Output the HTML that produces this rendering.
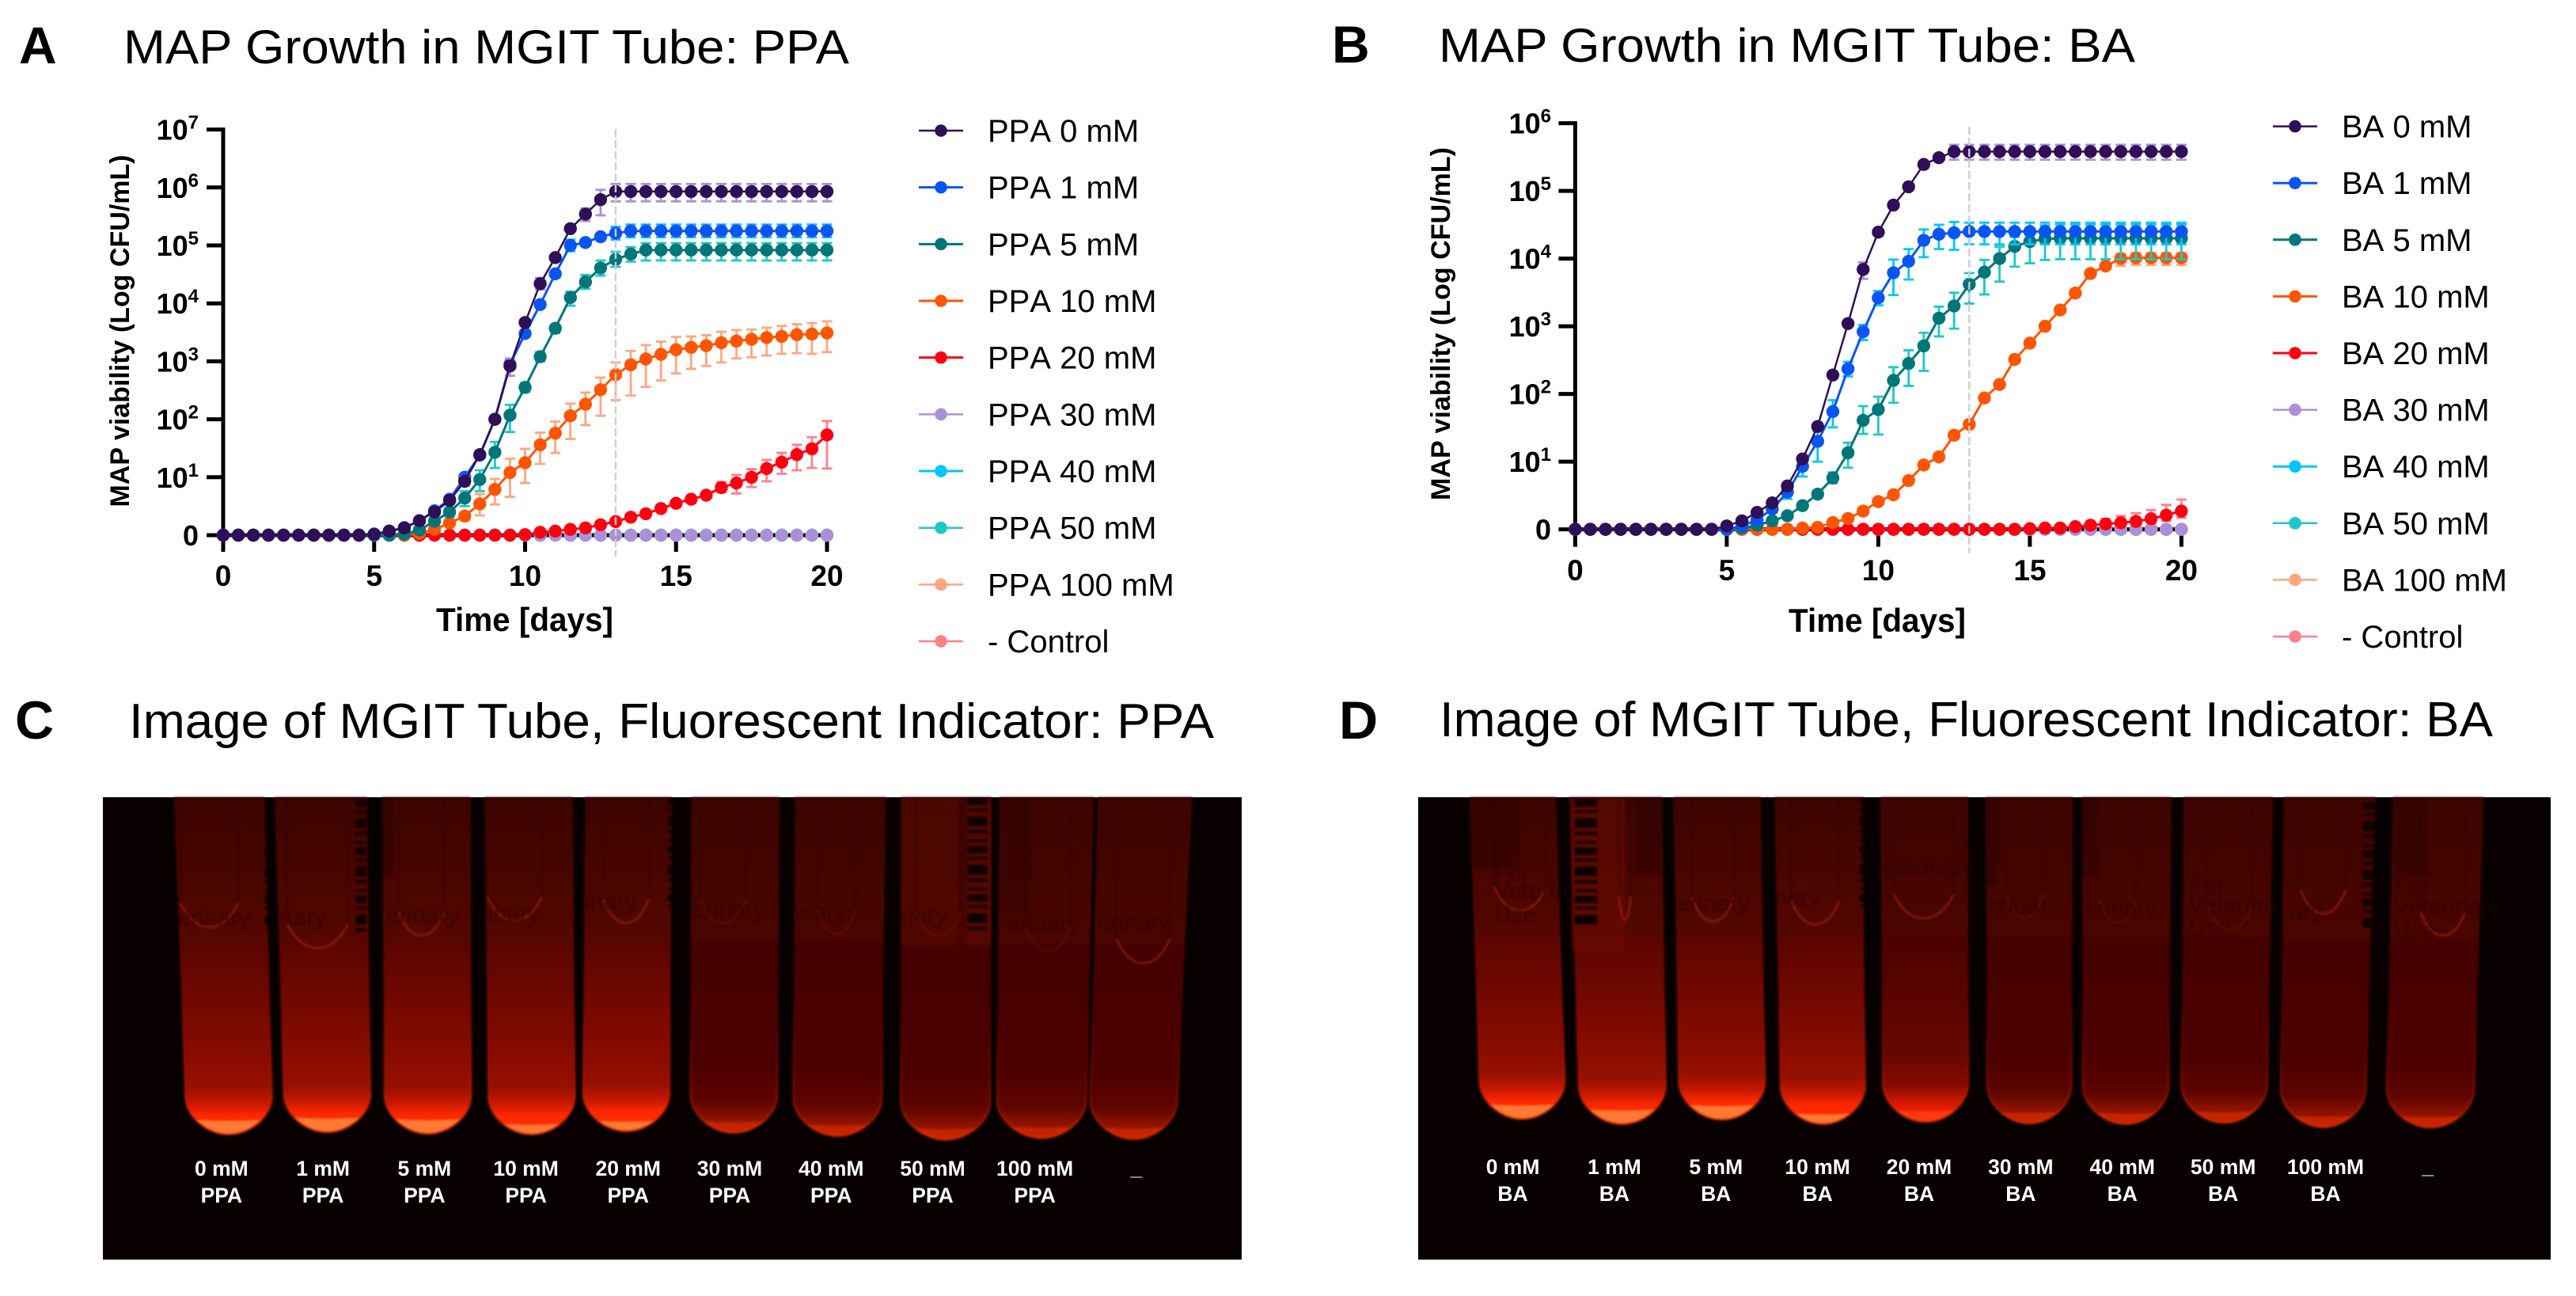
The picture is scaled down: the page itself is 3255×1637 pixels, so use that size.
<!DOCTYPE html>
<html lang="en">
<head>
<meta charset="utf-8">
<title>MAP Growth in MGIT Tube</title>
<style>
html,body{margin:0;padding:0;background:#fff;}
svg{display:block;font-family:"Liberation Sans",Arial,sans-serif;}
</style>
</head>
<body>
<svg id="figure" xmlns="http://www.w3.org/2000/svg" width="3255" height="1637" viewBox="0 0 3255 1637">
  <rect x="0" y="0" width="3255" height="1637" fill="#ffffff"/>
  <defs>
    <linearGradient id="tube-bright" x1="0" y1="0" x2="0" y2="1">
      <stop offset="0" stop-color="#3c0400"/><stop offset="0.2" stop-color="#470500"/><stop offset="0.42" stop-color="#540700"/>
      <stop offset="0.44" stop-color="#5c0500"/><stop offset="0.6" stop-color="#700800"/><stop offset="0.78" stop-color="#8a0c00"/>
      <stop offset="0.86" stop-color="#961000"/><stop offset="0.905" stop-color="#c41800"/><stop offset="0.945" stop-color="#ff2800"/><stop offset="1" stop-color="#ff3000"/>
    </linearGradient>
    <linearGradient id="tube-medium" x1="0" y1="0" x2="0" y2="1">
      <stop offset="0" stop-color="#3c0400"/><stop offset="0.42" stop-color="#4c0500"/><stop offset="0.44" stop-color="#4c0200"/>
      <stop offset="0.8" stop-color="#680600"/><stop offset="0.89" stop-color="#860c00"/><stop offset="0.95" stop-color="#e01a00"/><stop offset="1" stop-color="#ff2c00"/>
    </linearGradient>
    <linearGradient id="tube-dim" x1="0" y1="0" x2="0" y2="1">
      <stop offset="0" stop-color="#3c0400"/><stop offset="0.42" stop-color="#4a0500"/><stop offset="0.44" stop-color="#440000"/>
      <stop offset="0.82" stop-color="#4e0000"/><stop offset="0.91" stop-color="#600500"/><stop offset="0.95" stop-color="#851000"/><stop offset="1" stop-color="#b01c00"/>
    </linearGradient>
    <linearGradient id="tube-edge" x1="0" y1="0" x2="0" y2="1">
      <stop offset="0.6" stop-color="#d02000" stop-opacity="0"/><stop offset="0.9" stop-color="#e02400" stop-opacity="0.35"/><stop offset="1" stop-color="#ff3000" stop-opacity="0.55"/>
    </linearGradient>
  </defs>

  <text x="24" y="80" font-size="66" font-weight="700" fill="#000">A</text>
  <text x="156" y="80" font-size="60" fill="#000" textLength="917" lengthAdjust="spacingAndGlyphs">MAP Growth in MGIT Tube: PPA</text>
  <text x="1683" y="79" font-size="66" font-weight="700" fill="#000">B</text>
  <text x="1818" y="78" font-size="60" fill="#000" textLength="880" lengthAdjust="spacingAndGlyphs">MAP Growth in MGIT Tube: BA</text>
  <text x="19" y="933" font-size="68" font-weight="700" fill="#000">C</text>
  <text x="163" y="932" font-size="62" fill="#000" textLength="1371" lengthAdjust="spacingAndGlyphs">Image of MGIT Tube, Fluorescent Indicator: PPA</text>
  <text x="1692" y="933" font-size="68" font-weight="700" fill="#000">D</text>
  <text x="1819" y="930" font-size="62" fill="#000" textLength="1331" lengthAdjust="spacingAndGlyphs">Image of MGIT Tube, Fluorescent Indicator: BA</text>

  <text transform="translate(163,418) rotate(-90)" text-anchor="middle" font-size="34" font-weight="700" fill="#000" textLength="445" lengthAdjust="spacingAndGlyphs">MAP viability (Log CFU/mL)</text>
  <text x="663" y="797" text-anchor="middle" font-size="42" font-weight="700" fill="#000" textLength="224" lengthAdjust="spacingAndGlyphs">Time [days]</text>
  <text transform="translate(1832,409) rotate(-90)" text-anchor="middle" font-size="34" font-weight="700" fill="#000" textLength="446" lengthAdjust="spacingAndGlyphs">MAP viability (Log CFU/mL)</text>
  <text x="2372" y="798" text-anchor="middle" font-size="42" font-weight="700" fill="#000" textLength="224" lengthAdjust="spacingAndGlyphs">Time [days]</text>

  <g id="chart-a"></g>
  <g id="chart-b"></g>
  <g id="photo-c"></g>
  <g id="photo-d"></g>
</svg>

<script>
// ---------- shared chart data ----------
const days = [0,0.5,1,1.5,2,2.5,3,3.5,4,4.5, 5,5.5,6,6.5,7,7.5,8,8.5,9,9.5, 10,10.5,11,11.5,12,12.5,13,13.5,14,14.5, 15,15.5,16,16.5,17,17.5,18,18.5,19,19.5, 20];
const xTickLabels = [0,5,10,15,20];
const ppaDecades = [0,1,2,3,4,5,6,7];
const baDecades = [0,1,2,3,4,5,6];
const referenceDay = [13];
const ppaLegendLabels = ["PPA 0 mM","PPA 1 mM","PPA 5 mM","PPA 10 mM","PPA 20 mM","PPA 30 mM","PPA 40 mM","PPA 50 mM","PPA 100 mM","- Control"];
const baLegendLabels = ["BA 0 mM","BA 1 mM","BA 5 mM","BA 10 mM","BA 20 mM","BA 30 mM","BA 40 mM","BA 50 mM","BA 100 mM","- Control"];

// ---------- panel A: log10 CFU/mL (each row = 5 days, last value = day 20) ----------
const ppa0 = [0,0,0,0,0,0,0,0,0,0, 0.02,0.07,0.125,0.25,0.4,0.6,0.93,1.39,2.0,2.92, 3.67,4.34,4.79,5.29,5.54,5.79,5.93,5.93,5.93,5.93, 5.93,5.93,5.93,5.93,5.93,5.93,5.93,5.93,5.93,5.93, 5.93];
const ppa0Up = [0,0,0,0,0,0,0,0,0,0, 0,0,0,0,0.03,0.05,0.08,0.05,0.05,0.13, 0.05,0.1,0.05,0.05,0.1,0.17,0.13,0.13,0.13,0.13, 0.13,0.13,0.13,0.13,0.13,0.13,0.13,0.13,0.13,0.13, 0.13];
const ppa0Down = [0,0,0,0,0,0,0,0,0,0, 0,0,0,0,0.03,0.05,0.08,0.05,0.05,0.17, 0.05,0.1,0.05,0.05,0.12,0.27,0.17,0.17,0.17,0.17, 0.17,0.17,0.17,0.17,0.17,0.17,0.17,0.17,0.17,0.17, 0.17];
const ppa1 = [0,0,0,0,0,0,0,0,0,0, 0.01,0.07,0.13,0.25,0.42,0.62,1.0,1.38,2.0,2.95, 3.48,3.98,4.51,5.0,5.05,5.15,5.21,5.25,5.25,5.25, 5.25,5.25,5.25,5.25,5.25,5.25,5.25,5.25,5.25,5.25, 5.25];
const ppa1Up = [0,0,0,0,0,0,0,0,0,0, 0,0,0.03,0.04,0.05,0.05,0.05,0.05,0.05,0.05, 0.05,0.05,0.05,0.1,0.05,0.05,0.11,0.11,0.11,0.11, 0.11,0.11,0.11,0.11,0.11,0.11,0.11,0.11,0.11,0.11, 0.11];
const ppa1Down = [0,0,0,0,0,0,0,0,0,0, 0,0,0.03,0.04,0.05,0.05,0.05,0.05,0.05,0.05, 0.05,0.05,0.05,0.1,0.05,0.05,0.11,0.11,0.11,0.11, 0.11,0.11,0.11,0.11,0.11,0.11,0.11,0.11,0.11,0.11, 0.11];
const ppa5 = [0,0,0,0,0,0,0,0,0,0, 0,0,0.02,0.09,0.24,0.4,0.64,0.96,1.43,2.07, 2.55,3.08,3.57,4.1,4.37,4.61,4.76,4.85,4.92,4.92, 4.92,4.92,4.92,4.92,4.92,4.92,4.92,4.92,4.92,4.92, 4.92];
const ppa5Up = [0,0,0,0,0,0,0,0,0,0, 0,0,0,0.03,0.05,0.08,0.12,0.16,0.18,0.18, 0.08,0.08,0.06,0.1,0.12,0.13,0.13,0.12,0.12,0.12, 0.12,0.12,0.12,0.12,0.12,0.12,0.12,0.12,0.12,0.12, 0.12];
const ppa5Down = [0,0,0,0,0,0,0,0,0,0, 0,0,0,0.03,0.05,0.08,0.14,0.2,0.27,0.29, 0.08,0.08,0.08,0.14,0.12,0.13,0.13,0.13,0.18,0.18, 0.18,0.18,0.18,0.18,0.18,0.18,0.18,0.18,0.18,0.18, 0.18];
const ppa10 = [0,0,0,0,0,0,0,0,0,0, 0,0,0,0.03,0.1,0.21,0.33,0.54,0.79,1.08, 1.25,1.56,1.76,2.06,2.26,2.51,2.77,2.94,3.04,3.12, 3.2,3.24,3.27,3.32,3.35,3.38,3.41,3.43,3.46,3.47, 3.49];
const ppa10Up = [0,0,0,0,0,0,0,0,0,0, 0,0,0,0,0,0.03,0.05,0.17,0.18,0.24, 0.24,0.21,0.2,0.21,0.2,0.21,0.21,0.24,0.24,0.22, 0.22,0.19,0.18,0.19,0.19,0.17,0.17,0.18,0.18,0.19, 0.2];
const ppa10Down = [0,0,0,0,0,0,0,0,0,0, 0,0,0,0,0,0.03,0.08,0.2,0.26,0.42, 0.35,0.33,0.34,0.4,0.36,0.45,0.44,0.53,0.48,0.45, 0.41,0.37,0.35,0.34,0.3,0.31,0.31,0.3,0.32,0.34, 0.33];
const ppa20 = [0,0,0,0,0,0,0,0,0,0, 0,0,0,0,0,0,0,0,0,0, 0.01,0.05,0.07,0.1,0.125,0.18,0.235,0.31,0.37,0.46, 0.55,0.62,0.69,0.82,0.9,1.0,1.15,1.26,1.39,1.49, 1.73];
const ppa20Up = [0,0,0,0,0,0,0,0,0,0, 0,0,0,0,0,0,0,0,0,0, 0,0,0,0,0,0,0.02,0.02,0.03,0.03, 0.04,0.04,0.05,0.1,0.14,0.14,0.15,0.16,0.17,0.2, 0.24];
const ppa20Down = [0,0,0,0,0,0,0,0,0,0, 0,0,0,0,0,0,0,0,0,0, 0,0,0,0,0,0,0.02,0.02,0.03,0.03, 0.04,0.04,0.05,0.08,0.18,0.17,0.22,0.2,0.27,0.33, 0.58];
const ppa30 = [0,0,0,0,0,0,0,0,0,0, 0,0,0,0,0,0,0,0,0,0, 0,0,0,0,0,0,0,0,0,0, 0,0,0,0,0,0,0,0,0,0, 0];
const ppa40 = [0,0,0,0,0,0,0,0,0,0, 0,0,0,0,0,0,0,0,0,0, 0,0,0,0,0,0,0,0,0,0, 0,0,0,0,0,0,0,0,0,0, 0];
const ppa50 = [0,0,0,0,0,0,0,0,0,0, 0,0,0,0,0,0,0,0,0,0, 0,0,0,0,0,0,0,0,0,0, 0,0,0,0,0,0,0,0,0,0, 0];
const ppa100 = [0,0,0,0,0,0,0,0,0,0, 0,0,0,0,0,0,0,0,0,0, 0,0,0,0,0,0,0,0,0,0, 0,0,0,0,0,0,0,0,0,0, 0];
const ppaControl = [0,0,0,0,0,0,0,0,0,0, 0,0,0,0,0,0,0,0,0,0, 0,0,0,0,0,0,0,0,0,0, 0,0,0,0,0,0,0,0,0,0, 0];

// ---------- panel B: log10 CFU/mL ----------
const ba0 = [0,0,0,0,0,0,0,0,0,0, 0.05,0.125,0.25,0.39,0.64,1.04,1.52,2.28,3.04,3.84, 4.39,4.79,5.06,5.39,5.49,5.58,5.58,5.58,5.58,5.58, 5.58,5.58,5.58,5.58,5.58,5.58,5.58,5.58,5.58,5.58, 5.58];
const ba0Up = [0,0,0,0,0,0,0,0,0,0, 0,0,0,0,0,0,0,0.03,0.03,0.105, 0.03,0.03,0.03,0.05,0.03,0.1,0.1,0.1,0.1,0.1, 0.1,0.1,0.1,0.1,0.1,0.1,0.1,0.1,0.1,0.1, 0.1];
const ba0Down = [0,0,0,0,0,0,0,0,0,0, 0,0,0,0,0,0,0,0.03,0.03,0.14, 0.03,0.03,0.03,0.05,0.03,0.12,0.12,0.12,0.12,0.12, 0.12,0.12,0.12,0.12,0.12,0.12,0.12,0.12,0.12,0.12, 0.12];
const ba1 = [0,0,0,0,0,0,0,0,0,0, 0,0.05,0.14,0.3,0.55,0.93,1.3,1.74,2.37,2.92, 3.42,3.79,3.96,4.27,4.36,4.38,4.4,4.4,4.4,4.4, 4.4,4.4,4.4,4.4,4.4,4.4,4.4,4.4,4.4,4.4, 4.4];
const ba1Up = [0,0,0,0,0,0,0,0,0,0, 0,0,0.03,0.05,0.08,0.1,0.15,0.168,0.105,0.1, 0.1,0.195,0.18,0.16,0.14,0.16,0.13,0.13,0.13,0.13, 0.13,0.13,0.13,0.13,0.13,0.13,0.13,0.13,0.13,0.13, 0.13];
const ba1Down = [0,0,0,0,0,0,0,0,0,0, 0,0,0.03,0.05,0.1,0.15,0.3,0.234,0.11,0.125, 0.11,0.33,0.27,0.25,0.22,0.25,0.19,0.19,0.19,0.19, 0.19,0.19,0.19,0.19,0.19,0.19,0.19,0.19,0.19,0.19, 0.19];
const ba5 = [0,0,0,0,0,0,0,0,0,0, 0,0.02,0.06,0.125,0.2,0.35,0.52,0.76,1.13,1.61, 1.77,2.2,2.45,2.71,3.12,3.3,3.62,3.8,4.0,4.18, 4.25,4.29,4.3,4.3,4.3,4.3,4.3,4.3,4.3,4.3, 4.3];
const ba5Up = [0,0,0,0,0,0,0,0,0,0, 0,0,0,0,0.02,0.03,0.05,0.08,0.15,0.21, 0.19,0.195,0.195,0.195,0.17,0.195,0.165,0.18,0.175,0.14, 0.12,0.2,0.2,0.2,0.2,0.2,0.2,0.2,0.2,0.2, 0.2];
const ba5Down = [0,0,0,0,0,0,0,0,0,0, 0,0,0,0,0.02,0.03,0.05,0.08,0.22,0.2, 0.37,0.33,0.33,0.37,0.27,0.335,0.285,0.33,0.34,0.3, 0.32,0.31,0.31,0.31,0.31,0.31,0.31,0.31,0.31,0.31, 0.31];
const ba10 = [0,0,0,0,0,0,0,0,0,0, 0,0,0,0,0,0.02,0.03,0.1,0.16,0.27, 0.41,0.51,0.72,0.95,1.07,1.39,1.55,1.94,2.14,2.51, 2.75,3.0,3.24,3.49,3.78,3.89,4.0,4.01,4.01,4.01, 4.01];
const ba10Up = [0,0,0,0,0,0,0,0,0,0, 0,0,0,0,0,0,0,0,0.02,0.02, 0.02,0.02,0.02,0.03,0.03,0.03,0.03,0.03,0.03,0.03, 0.03,0.03,0.03,0.03,0.03,0.04,0.07,0.07,0.07,0.07, 0.07];
const ba10Down = [0,0,0,0,0,0,0,0,0,0, 0,0,0,0,0,0,0,0,0.02,0.02, 0.02,0.02,0.02,0.03,0.03,0.03,0.03,0.03,0.03,0.03, 0.03,0.03,0.03,0.03,0.03,0.05,0.105,0.105,0.105,0.105, 0.105];
const ba20 = [0,0,0,0,0,0,0,0,0,0, 0,0,0,0,0,0,0,0,0,0, 0,0,0,0,0,0,0,0,0,0, 0.01,0.02,0.02,0.04,0.06,0.078,0.097,0.117,0.156,0.21, 0.27];
const ba20Up = [0,0,0,0,0,0,0,0,0,0, 0,0,0,0,0,0,0,0,0,0, 0,0,0,0,0,0,0,0,0,0, 0,0,0,0.02,0.05,0.08,0.1,0.12,0.13,0.15, 0.17];
const ba20Down = [0,0,0,0,0,0,0,0,0,0, 0,0,0,0,0,0,0,0,0,0, 0,0,0,0,0,0,0,0,0,0, 0,0,0,0.02,0.03,0.05,0.06,0.07,0.08,0.09, 0.1];
const ba30 = [0,0,0,0,0,0,0,0,0,0, 0,0,0,0,0,0,0,0,0,0, 0,0,0,0,0,0,0,0,0,0, 0,0,0,0,0,0,0,0,0,0, 0];
const ba40 = [0,0,0,0,0,0,0,0,0,0, 0,0,0,0,0,0,0,0,0,0, 0,0,0,0,0,0,0,0,0,0, 0,0,0,0,0,0,0,0,0,0, 0];
const ba50 = [0,0,0,0,0,0,0,0,0,0, 0,0,0,0,0,0,0,0,0,0, 0,0,0,0,0,0,0,0,0,0, 0,0,0,0,0,0,0,0,0,0, 0];
const ba100 = [0,0,0,0,0,0,0,0,0,0, 0,0,0,0,0,0,0,0,0,0, 0,0,0,0,0,0,0,0,0,0, 0,0,0,0,0,0,0,0,0,0, 0];
const baControl = [0,0,0,0,0,0,0,0,0,0, 0,0,0,0,0,0,0,0,0,0, 0,0,0,0,0,0,0,0,0,0, 0,0,0,0,0,0,0,0,0,0, 0];

// ---------- shared style ----------
const lineColors = ["#2f0f57","#0a55f2","#00767a","#ff5500","#ff0010","#ab90d9","#00c6fb","#1ec8c8","#ffa680","#ff808a"];
const errColors = ["#ab90d9","#00c6fb","#1ec8c8","#ffa680","#ff808a","#ab90d9","#00c6fb","#1ec8c8","#ffa680","#ff808a"];
const lineWidths = [2.5,3,3,3,3,2.5,3,2.5,2.5,2.5];

const NS = "http://www.w3.org/2000/svg";
function make(parent, tag, attrs, text) {
  const el = document.createElementNS(NS, tag);
  for (const k in attrs) el.setAttribute(k, attrs[k]);
  if (text !== undefined) el.textContent = text;
  parent.appendChild(el);
  return el;
}

function drawChart(cfg) {
  const root = cfg.root;
  const xScale = d => cfg.x0 + d * cfg.dayPx;
  const yScale = v => cfg.y0 - v * cfg.decadePx;
  const n = cfg.series.length;

  function drawLine(i) {
    const vals = cfg.series[i][0];
    const pts = days.map((d, k) => xScale(d).toFixed(1) + "," + yScale(vals[k]).toFixed(1)).join(" ");
    const line = make(root, "polyline", {points: pts, fill: "none", stroke: lineColors[i], "stroke-width": lineWidths[i], "stroke-linejoin": "round"});
    
    
  }
  function drawErrors(i) {
    const s = cfg.series[i];
    if (!s[1]) return;
    days.forEach((d, k) => {
      if (s[1][k] === 0 && s[2][k] === 0) return;
      const cx = xScale(d), hi = yScale(s[0][k] + s[1][k]), lo = yScale(s[0][k] - s[2][k]);
      const bar = make(root, "path", {d: "M" + (cx - 6.5) + " " + hi + "H" + (cx + 6.5) + "M" + cx + " " + hi + "V" + lo + "M" + (cx - 6.5) + " " + lo + "H" + (cx + 6.5), fill: "none", stroke: errColors[i], "stroke-width": 2.8});
      
      
    });
  }
  function drawMarkers(i) {
    const vals = cfg.series[i][0];
    days.forEach((d, k) => {
      const dot = make(root, "circle", {cx: xScale(d), cy: yScale(vals[k]), r: 8.2, fill: lineColors[i]});
      
      
    });
  }

  // zero-only series lines sit beneath the axis, their markers above it
  for (let i = n - 1; i >= 5; i--) drawLine(i);

  // axes
  const yTop = yScale(cfg.decades[cfg.decades.length - 1]);
  const yAxis = make(root, "line", {x1: xScale(0), x2: xScale(0), y1: yTop - 2.5, y2: cfg.y0 + cfg.tickLen, stroke: "#000", "stroke-width": 5});
  
  
  const xAxis = make(root, "line", {x1: xScale(0), x2: xScale(20) + 2.5, y1: cfg.y0, y2: cfg.y0, stroke: "#000", "stroke-width": 5});
  
  

  cfg.decades.forEach(p => {
    const y = yScale(p);
    const tick = make(root, "line", {x1: xScale(0) - 21, x2: xScale(0), y1: y, y2: y, stroke: "#000", "stroke-width": 5});
    
    
    const label = make(root, "text", {x: cfg.yLabelX, y: y + 13, "text-anchor": "end", "font-size": 36, "font-weight": 700, fill: "#000"});
    
    
    if (p === 0) {
      label.textContent = "0";
    } else {
      label.appendChild(document.createTextNode("10"));
      make(label, "tspan", {dy: -14, "font-size": 24}, String(p));
    }
  });
  xTickLabels.forEach(d => {
    const x = xScale(d);
    const tick = make(root, "line", {x1: x, x2: x, y1: cfg.y0, y2: cfg.y0 + cfg.tickLen, stroke: "#000", "stroke-width": 5});
    
    
    const label = make(root, "text", {x: x, y: cfg.xLabelY, "text-anchor": "middle", "font-size": 37, "font-weight": 700, fill: "#000"}, String(d));
    
    
  });

  for (let i = n - 1; i >= 5; i--) drawMarkers(i);
  for (let i = 4; i >= 0; i--) { drawErrors(i); drawLine(i); drawMarkers(i); }

  // reference line at day 13
  referenceDay.forEach(d => {
    const ref = make(root, "line", {x1: xScale(d), x2: xScale(d), y1: cfg.refTop, y2: cfg.refBottom, stroke: "#cfcfcf", "stroke-width": 2.4, "stroke-dasharray": "10 4"});
    
    
  });

  // legend
  cfg.labels.forEach((name, i) => {
    const y = cfg.legendY + i * cfg.legendStep;
    const g = make(root, "g", {});
    
    
    make(g, "line", {x1: cfg.legendX, x2: cfg.legendX + 56, y1: y, y2: y, stroke: lineColors[i], "stroke-width": lineWidths[i]});
    make(g, "circle", {cx: cfg.legendX + 28, cy: y, r: 7.8, fill: lineColors[i]});
    make(g, "text", {x: cfg.legendTextX, y: y + 14, "font-size": 40, fill: "#000", style: "font-kerning:none"}, name);
  });
}

drawChart({
  root: document.getElementById("chart-a"),
  x0: 282, dayPx: 38.15, y0: 676, decadePx: 73.2, tickLen: 21,
  decades: ppaDecades, yLabelX: 251, xLabelY: 740, refTop: 163, refBottom: 703,
  labels: ppaLegendLabels, legendX: 1161, legendTextX: 1248, legendY: 165, legendStep: 71.67,
  series: [[ppa0,ppa0Up,ppa0Down],[ppa1,ppa1Up,ppa1Down],[ppa5,ppa5Up,ppa5Down],[ppa10,ppa10Up,ppa10Down],[ppa20,ppa20Up,ppa20Down],[ppa30],[ppa40],[ppa50],[ppa100],[ppaControl]]
});
drawChart({
  root: document.getElementById("chart-b"),
  x0: 1990.4, dayPx: 38.3, y0: 668.6, decadePx: 85.5, tickLen: 22,
  decades: baDecades, yLabelX: 1960, xLabelY: 733, refTop: 160, refBottom: 699,
  labels: baLegendLabels, legendX: 2872, legendTextX: 2959, legendY: 159.6, legendStep: 71.6,
  series: [[ba0,ba0Up,ba0Down],[ba1,ba1Up,ba1Down],[ba5,ba5Up,ba5Down],[ba10,ba10Up,ba10Down],[ba20,ba20Up,ba20Down],[ba30],[ba40],[ba50],[ba100],[baControl]]
});

// ---------- photographs (illustrated tubes) ----------
const photoCTubes = [[125,245,140,255,1145,0],[258,380,270,385,1138,0],[400,517,403,518,1143,0],[535,652,540,655,1145,0],[668,783,665,780,1135,0],[808,925,807,922,1140,2],[945,1065,943,1060,1150,2],[1085,1205,1085,1203,1162,2],[1215,1340,1212,1330,1157,2],[1345,1470,1335,1450,1160,2]];
const photoCArcs = [[172,483,38,1],[315,550,40,1],[452,510,30,1],[575,462,36,1],[722,470,30,1],[850,470,30,0],[1000,505,25,0],[1135,510,30,0],[1280,560,30,0],[1405,598,35,1]];
const photoCText = [[130,478,"erinary"],[265,478,"nary"],[405,470,"erinary"],[540,465,"inary"],[668,428,"inary"],[810,452,"erinary"],[945,462,"inary"],[1085,470,"nary"],[1225,498,"erinary"],[1345,492,"erinary"]];
const photoCBars = [[372,75,500,14],[247,75,490,4],[1186,70,510,26],[780,70,440,5]];
const photoCPatches = [[1085,70,75,470,"#5a0a00"],[1172,70,33,470,"#650c00"],[400,70,15,250,"#250200"],[1218,70,40,370,"#300300"]];
const photoCLabels = ["0 mM","1 mM","5 mM","10 mM","20 mM","30 mM","40 mM","50 mM","100 mM"];
const photoCLabelX = [188,322,456,590,725,859,993,1127,1262];
const photoDTubes = [[92,208,105,220,1096,0],[225,350,238,355,1112,0],[365,482,372,488,1098,0],[500,618,508,622,1112,0],[642,760,645,760,1105,1],[783,900,785,898,1110,2],[912,1032,913,1028,1112,2],[1048,1168,1045,1160,1108,2],[1182,1305,1178,1292,1122,2],[1328,1450,1320,1437,1123,2]];
const photoDArcs = [[160,430,35,1],[300,460,8,1],[418,465,28,1],[555,475,32,1],[700,455,40,1],[835,455,25,0],[960,470,25,0],[1110,490,30,0],[1235,440,30,1],[1395,510,30,1]];
const photoDText = [[125,335,"For"],[125,392,"Veterin"],[125,468,"Use"],[370,432,"erinary"],[500,412,"nary"],[645,318,"eterinary"],[785,438,"erinary"],[915,448,"erinary"],[1055,372,"For"],[1055,438,"Veterina"],[1055,508,"Use"],[1190,458,"ary"],[1330,378,"For"],[1330,442,"Veterinary"],[1330,518,"Use"]];
const photoDBars = [[248,75,475,30],[1296,85,495,16],[618,70,430,7],[490,70,430,5]];
const photoDPatches = [[92,70,68,225,"#2a0300"],[315,70,35,245,"#2a0300"],[228,75,72,485,"#6e0e00"],[1330,70,45,250,"#2a0300"],[912,70,20,250,"#250200"],[785,70,15,280,"#250200"]];
const photoDLabels = ["0 mM","1 mM","5 mM","10 mM","20 mM","30 mM","40 mM","50 mM","100 mM"];
const photoDLabelX = [150,286,422,558,694,830,966,1101,1238];

function drawPhoto(p) {
  const root = p.root;
  const X = dx => p.ox + dx / p.sx;
  const Y = dy => 980 + dy / 2.529;
  const top = 1007;
  const bg = make(root, "rect", {x: p.left, y: top, width: p.right - p.left, height: 584, fill: "#080000"});
  
  
  const art = make(root, "g", {style: "filter:blur(1.2px)"});
  
  
  const fills = ["url(#tube-bright)", "url(#tube-medium)", "url(#tube-dim)"];
  const capColors = ["#ff7a35", "#ff3a10", "#c52400"];
  p.tubes.forEach((t, i) => {
    const xl = X(t[0]), xr = X(t[1]), bl = X(t[2]), br = X(t[3]), yb = Y(t[4]), xc = (bl + br) / 2, w = br - bl;
    const outline = "M" + xl + " " + top + "L" + bl + " " + (yb - 48) + "C" + bl + " " + (yb - 24) + " " + (xc - w * 0.26) + " " + yb + " " + xc + " " + yb + "C" + (xc + w * 0.26) + " " + yb + " " + br + " " + (yb - 24) + " " + br + " " + (yb - 48) + "L" + xr + " " + top + "Z";
    const clipId = p.id + "-clip-" + i;
    const clip = make(art, "clipPath", {id: clipId});
    make(clip, "path", {d: outline});
    const tube = make(art, "path", {d: outline, fill: fills[t[5]]});
    
    
    const g = make(art, "g", {"clip-path": "url(#" + clipId + ")"});
    const capH = t[5] === 0 ? (i % 5 >= 3 ? 15 : 20) : 16;
    make(g, "path", {d: "M" + (bl - 5) + " " + (yb - capH) + "Q" + xc + " " + (yb - capH + 6) + " " + (br + 5) + " " + (yb - capH) + "V" + (yb + 2) + "H" + (bl - 5) + "Z", fill: capColors[t[5]]});
    const edge = make(art, "path", {d: outline, fill: "none", stroke: "url(#tube-edge)", "stroke-width": 3});
    
    
  });
  p.patches.forEach(r => {
    const patch = make(art, "rect", {x: X(r[0]), y: Y(r[1]), width: r[2] / p.sx, height: r[3] / 2.529, fill: r[4], opacity: 0.45});
    
    
  });
  p.bars.forEach(b => {
    const bar = make(art, "line", {x1: X(b[0]), x2: X(b[0]), y1: Y(b[1]), y2: Y(b[2]), stroke: "#120000", "stroke-width": b[3] / p.sx, "stroke-dasharray": "9 5 3 7 12 5 4 8 3 5"});
    
    
  });
  p.arcs.forEach(a => {
    const cx = X(a[0]), by = Y(a[1]), hw = a[2] / p.sx;
    const inner = make(art, "path", {d: "M" + (cx - hw) + " " + top + "V" + (by - 30) + "M" + (cx + hw) + " " + top + "V" + (by - 30), fill: "none", stroke: "#2a0200", "stroke-width": 3, opacity: 0.35});
    
    
    const arc = make(art, "path", {d: "M" + (cx - hw) + " " + (by - 30) + "Q" + (cx - hw * 0.6) + " " + by + " " + cx + " " + by + "Q" + (cx + hw * 0.6) + " " + by + " " + (cx + hw) + " " + (by - 30), fill: "none", stroke: a[3] ? "#a82a10" : "#6a1000", "stroke-width": 2.2, opacity: 0.7});
    
    
  });
  p.photoText.forEach(s => {
    const t = make(art, "text", {x: X(s[0]), y: Y(s[1]), "font-size": 30, fill: "#2c0200", opacity: 0.6}, s[2]);
    
    
  });
  p.labels.forEach((s, i) => {
    const t1 = make(root, "text", {x: X(p.labelX[i]), y: p.labelY1, "text-anchor": "middle", "font-size": 26.5, "font-weight": 700, fill: "#fff"}, s);
    
    
    const t2 = make(root, "text", {x: X(p.labelX[i]), y: p.labelY2, "text-anchor": "middle", "font-size": 26.5, "font-weight": 700, fill: "#fff"}, p.acid);
    
    
  });
  const dash = make(root, "text", {x: X(p.dashX), y: p.dashY, "text-anchor": "middle", "font-size": 26.5, "font-weight": 700, fill: "#fff"}, "_");
  
  
}

drawPhoto({root: document.getElementById("photo-c"), id: "c", ox: 100, sx: 1.045, left: 130, right: 1569, tubes: photoCTubes, arcs: photoCArcs, photoText: photoCText, bars: photoCBars, patches: photoCPatches, labels: photoCLabels, labelX: photoCLabelX, acid: "PPA", labelY1: 1485, labelY2: 1519, dashX: 1396, dashY: 1484});
drawPhoto({root: document.getElementById("photo-d"), id: "d", ox: 1770, sx: 1.0595, left: 1792, right: 3223, tubes: photoDTubes, arcs: photoDArcs, photoText: photoDText, bars: photoDBars, patches: photoDPatches, labels: photoDLabels, labelX: photoDLabelX, acid: "BA", labelY1: 1483, labelY2: 1517, dashX: 1375, dashY: 1482});
</script>
</body>
</html>
